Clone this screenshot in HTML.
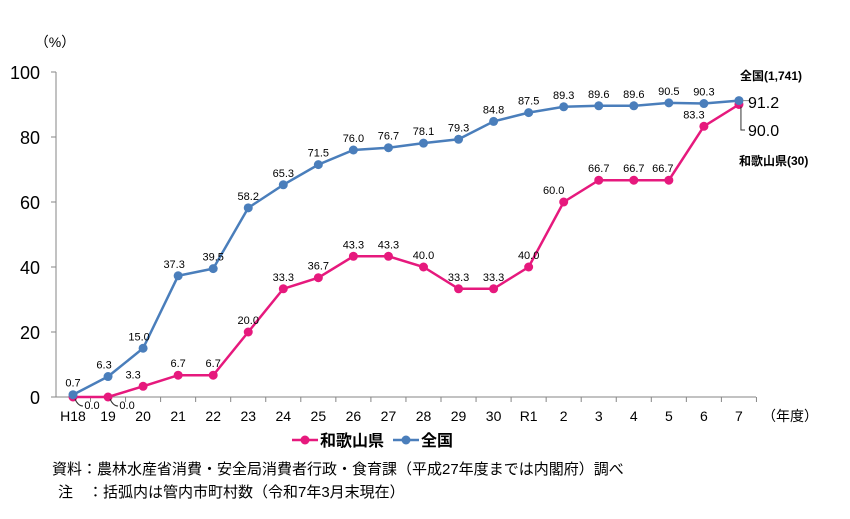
<!DOCTYPE html>
<html><head><meta charset="utf-8"><style>
body{margin:0;background:#fff;}
svg{display:block;font-family:"Liberation Sans","Noto Sans CJK JP",sans-serif;}
</style></head><body>
<svg id="c" width="850" height="519" viewBox="0 0 850 519"></svg>
<script>
const categories=["H18","19","20","21","22","23","24","25","26","27","28","29","30","R1","2","3","4","5","6","7"];
const nationalValues=[0.7,6.3,15.0,37.3,39.5,58.2,65.3,71.5,76.0,76.7,78.1,79.3,84.8,87.5,89.3,89.6,89.6,90.5,90.3,91.2];
const wakayamaValues=[0.0,0.0,3.3,6.7,6.7,20.0,33.3,36.7,43.3,43.3,40.0,33.3,33.3,40.0,60.0,66.7,66.7,66.7,83.3,90.0];
const yTicks=[0,20,40,60,80,100];
const NS="http://www.w3.org/2000/svg";
const svg=document.getElementById('c');
function xs(i){return 73+i*35.05;}
function ys(v){return 397-v*3.25;}
function mk(tag,attrs,parent){const e=document.createElementNS(NS,tag);for(const k in attrs)e.setAttribute(k,attrs[k]);(parent||svg).appendChild(e);return e;}
function txt(x,y,s,size,anchor,parent,weight){const t=mk('text',{x:x,y:y,'font-size':size,'text-anchor':anchor||'middle',fill:'#000'},parent);if(weight)t.setAttribute('font-weight',weight);t.textContent=s;return t;}
const ax=mk('line',{x1:56,y1:72,x2:56,y2:397,stroke:'#868686','stroke-width':1});


const bx=mk('line',{x1:56,y1:397,x2:756,y2:397,stroke:'#868686','stroke-width':1});


yTicks.forEach(v=>{
  mk('line',{x1:51,y1:ys(v),x2:56,y2:ys(v),stroke:'#868686'});
  const t=txt(40,ys(v)+7,String(v),18,'end');
  
  
});
const yt=txt(55,47,'（%）',14,'middle');


categories.forEach((c,i)=>{
  mk('line',{x1:xs(i)+17.5,y1:397,x2:xs(i)+17.5,y2:402,stroke:'#868686'});
  const t=txt(xs(i),421,c,14,'middle');
  
  
});
const xu=txt(790,421,'（年度）',14,'middle');


function series(vals,color,name){
  const g=mk('g',{});
  
  
  mk('polyline',{points:vals.map((v,i)=>xs(i)+','+ys(v)).join(' '),fill:'none',stroke:color,'stroke-width':2.5},g);
  vals.forEach((v,i)=>{
    const p=mk('circle',{cx:xs(i),cy:ys(v),r:4.5,fill:color},g);
    
    
  });
  return g;
}
series(wakayamaValues,'#e6197d','wakayama-series');
series(nationalValues,'#4a7ebb','national-series');
nationalValues.forEach((v,i)=>{
  if(i===categories.length-1)return;
  const t=txt(xs(i)-(i>0&&i<4?4:0),ys(v)-8,v.toFixed(1),11,'middle');
  
  
});
wakayamaValues.forEach((v,i)=>{
  if(i===categories.length-1)return;
  let x=xs(i),y=ys(v)-8;
  if(i<2){x=xs(i)+19;y=ys(v)+12;mk('path',{d:`M${xs(i)+2} ${ys(v)+2} q3 7 8 7`,fill:'none',stroke:'#333'});}
  else if(i===2||i===14||i===18){x-=10;}
  else if(i===17){x-=6;}
  const t=txt(x,y,v.toFixed(1),11,'middle');
  
  
});
const last=categories.length-1;
mk('line',{x1:xs(last)+4,y1:ys(nationalValues[last]),x2:xs(last)+10,y2:ys(nationalValues[last]),stroke:'#888'});
const nl=txt(748,108,nationalValues[last].toFixed(1),16,'start');


mk('path',{d:`M${xs(last)+2} ${ys(wakayamaValues[last])+2} V130 H745`,fill:'none',stroke:'#333'});
const wl=txt(748,136,wakayamaValues[last].toFixed(1),16,'start');


const nn=txt(740,80,'全国(1,741)',12,'start',null,'bold');


const wn=txt(739,165,'和歌山県(30)',12,'start',null,'bold');


const lg=mk('g',{});


mk('line',{x1:292,y1:440,x2:318,y2:440,stroke:'#e6197d','stroke-width':2.5},lg);
mk('circle',{cx:305,cy:440,r:4.5,fill:'#e6197d'},lg);
txt(320,446,'和歌山県',16,'start',lg,'bold');
mk('line',{x1:393,y1:440,x2:419,y2:440,stroke:'#4a7ebb','stroke-width':2.5},lg);
mk('circle',{cx:406,cy:440,r:4.5,fill:'#4a7ebb'},lg);
txt(421,446,'全国',16,'start',lg,'bold');
const s1=txt(52,474,'資料：農林水産省消費・安全局消費者行政・食育課（平成27年度までは内閣府）調べ',15,'start');


const s2=txt(58,497,'注　：括弧内は管内市町村数（令和7年3月末現在）',15,'start');


</script>
</body></html>
